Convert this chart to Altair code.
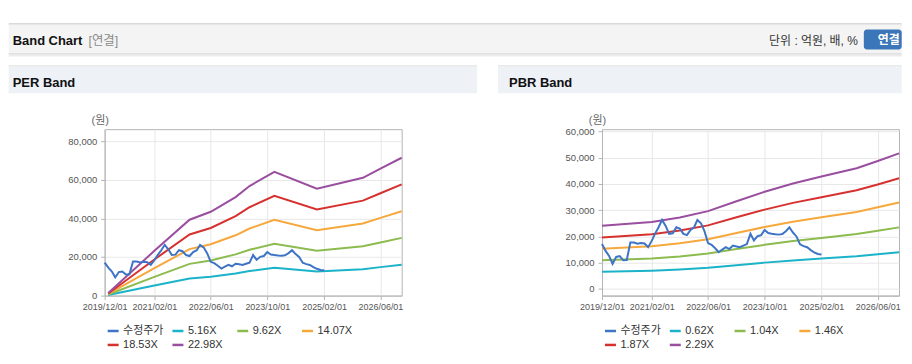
import altair as alt
import pandas as pd

FONT = "Liberation Sans, Noto Sans CJK KR, sans-serif"

PER_SERIES = ["수정주가", "5.16X", "9.62X", "14.07X", "18.53X", "22.98X"]
PBR_SERIES = ["수정주가", "0.62X", "1.04X", "1.46X", "1.87X", "2.29X"]
LINE_COLORS = ["#3e74c6", "#1ab3c9", "#8cbb4f", "#f6a83c", "#d6312f", "#9a4e9f"]

X_TICKS = ["2019-12-01", "2021-02-01", "2022-06-01", "2023-10-01", "2025-02-01", "2026-06-01"]
X_DOMAIN = ["2019-12-01", "2026-12-01"]

PER_Y_TICKS = [0, 20000, 40000, 60000, 80000]
PER_Y_DOMAIN = [0, 86200]
PBR_Y_TICKS = [0, 10000, 20000, 30000, 40000, 50000, 60000]
PBR_Y_DOMAIN = [-2550, 60900]

# 수정주가 (monthly, from 2019-12)
PRICE_START = "2019-12-01"
PRICE = [17100, 14500, 12500, 9500, 12200, 12500, 10900, 11000, 17700, 17700,
         17200, 17500, 17300, 15900, 18300, 21000, 23500, 26300, 24000, 21000,
         21200, 23500, 23000, 21000, 20500, 22500, 23500, 26300, 25000, 22000,
         17500, 16800, 15500, 14000, 15000, 15900, 15200, 16500, 16200, 15900,
         16500, 17100, 21000, 18500, 20100, 20500, 22500, 21300, 21000, 20800,
         20700, 20900, 22000, 23500, 21500, 20000, 17000, 16300, 15900, 14800,
         13900, 13300, 13100]

PER_DATES = ["2020-01-01", "2021-02-01", "2021-12-01", "2022-06-01", "2023-01-01", "2023-05-01",
             "2023-12-01", "2024-12-01", "2026-01-01", "2026-06-01", "2026-12-01"]
PER_5_16 = [315, 5212, 8824, 9752, 11455, 12745, 14396, 12436, 13700, 14758, 16032]
PER_9_62 = [587, 9716, 16450, 18182, 21356, 23761, 26840, 23184, 25541, 27513, 29889]
PER_14_07 = [858, 14211, 24060, 26592, 31235, 34753, 39255, 33909, 37356, 40240, 43715]
PER_18_53 = [1130, 18715, 31686, 35022, 41137, 45769, 51699, 44657, 49197, 52996, 57573]
PER_22_98 = [1402, 23210, 39296, 43432, 51016, 56761, 64114, 55382, 61012, 65723, 71399]

PBR_DATES = ["2019-12-01", "2021-02-01", "2021-10-01", "2022-06-01", "2023-02-01", "2023-10-01",
             "2024-06-01", "2025-02-01", "2025-12-01", "2026-06-01", "2026-12-01"]
PBR_0_62 = [6510, 6913, 7378, 8029, 9052, 10025, 10875, 11594, 12462, 13206, 13987]
PBR_1_04 = [10920, 11596, 12376, 13468, 15184, 16817, 18242, 19448, 20904, 22152, 23462]
PBR_1_46 = [15330, 16279, 17374, 18907, 21316, 23608, 25608, 27302, 29346, 31098, 32938]
PBR_1_87 = [19635, 20851, 22253, 24217, 27302, 30238, 32800, 34969, 37587, 39831, 42187]
PBR_2_29 = [24045, 25534, 27251, 29656, 33434, 37029, 40167, 42823, 46029, 48777, 51662]

W, H = 298, 167
GAP = 201
# page position of the left plot origin (used for header decorations)
OX, OY = 104.3, 128.0


def dt(s):
    y, m, d = (int(p) for p in s.split("-"))
    return alt.DateTime(year=y, month=m, date=d, utc=True)


price_dates = pd.date_range(PRICE_START, periods=len(PRICE), freq="MS").strftime("%Y-%m-%d")
df_price = pd.DataFrame({"date": list(price_dates), "value": PRICE, "series": "수정주가"})


def band_frame(dates, bands):
    rows = []
    for name, vals in bands:
        for d, v in zip(dates, vals):
            rows.append({"date": d, "value": v, "series": name})
    return pd.DataFrame(rows)


df_per = band_frame(PER_DATES, [("5.16X", PER_5_16), ("9.62X", PER_9_62), ("14.07X", PER_14_07),
                                ("18.53X", PER_18_53), ("22.98X", PER_22_98)])
df_pbr = band_frame(PBR_DATES, [("0.62X", PBR_0_62), ("1.04X", PBR_1_04), ("1.46X", PBR_1_46),
                                ("1.87X", PBR_1_87), ("2.29X", PBR_2_29)])

ONE = pd.DataFrame({"k": [0]})


def rect(x1, y1, x2, y2, color, **kw):
    return alt.Chart(ONE).mark_rect(color=color, **kw).encode(
        x=alt.value(x1 - OX), x2=alt.value(x2 - OX),
        y=alt.value(y1 - OY), y2=alt.value(y2 - OY))


def label(txt, x, y, size, color, weight="normal", align="left"):
    return alt.Chart(ONE).mark_text(
        text=txt, align=align, baseline="alphabetic", font=FONT,
        fontSize=size, fontWeight=weight, color=color).encode(
        x=alt.value(x - OX), y=alt.value(y - OY))


deco = [
    rect(8, 8, 904, 22, "#ffffff"),
    rect(8, 22, 904, 23, "#b4b4b4"),
    rect(8, 23, 904, 52, "#f4f4f4"),
    rect(8, 52, 904, 53, "#c9c9c9"),
    rect(8, 53, 904, 55, "#ececec"),
    rect(8, 64, 478, 65, "#d6d6d6"),
    rect(499, 64, 904, 65, "#d6d6d6"),
    rect(8, 65, 478, 92, "#eef1f6"),
    rect(499, 65, 904, 92, "#eef1f6"),
    rect(480, 340, 497, 348, "#ffffff"),
    rect(866, 28, 904, 48, "#3a76b8", cornerRadius=3),
    label("Band Chart", 12, 43.5, 13, "#111111", "bold"),
    label("[연결]", 88, 43.5, 12.5, "#8a8a8a"),
    label("단위 : 억원, 배, %", 860, 44, 12, "#333333", align="right"),
    label("연결", 891, 42.5, 12, "#ffffff", "bold", align="center"),
    label("PER Band", 12, 85.5, 13, "#111111", "bold"),
    label("PBR Band", 510, 85.5, 13, "#111111", "bold"),
]


def panel(df_bands, series, y_domain, y_ticks, extra_layers):
    x_axis = alt.Axis(values=[dt(s) for s in X_TICKS],
                      labelExpr="utcFormat(datum.value, '%Y/%m/%d')",
                      title=None, labelFontSize=9, labelColor="#555555", labelFont=FONT,
                      tickSize=4, labelPadding=3, labelOverlap=False, labelFlush=False,
                      grid=True)
    y_axis = alt.Axis(values=y_ticks, labelExpr="format(datum.value, ',')",
                      title="(원)", titleAngle=0, titleX=-5, titleY=-6,
                      titleAlign="center", titleBaseline="alphabetic", titleFontSize=11,
                      titleFontWeight="normal", titleColor="#666666", titleFont=FONT,
                      labelFontSize=9.5, labelColor="#555555", labelFont=FONT,
                      tickSize=4, labelPadding=4, grid=True)
    x = alt.X("date:T", scale=alt.Scale(type="utc", domain=[dt(s) for s in X_DOMAIN], nice=False),
              axis=x_axis)
    y = alt.Y("value:Q", scale=alt.Scale(domain=y_domain, nice=False, zero=False), axis=y_axis)
    legend = alt.Legend(title=None, orient="none", legendX=1.5, legendY=195.5, direction="horizontal",
                        columns=4, symbolType="stroke", symbolSize=121, symbolStrokeWidth=2.5,
                        labelFontSize=11, labelFont=FONT, labelColor="#333333", labelOffset=3,
                        columnPadding=3, rowPadding=2, gridAlign="all", labelLimit=200, padding=0)
    color = alt.Color("series:N", scale=alt.Scale(domain=series, range=LINE_COLORS), legend=legend)
    bands = alt.Chart(df_bands).mark_line(strokeWidth=2).encode(x=x, y=y, color=color)
    price = alt.Chart(df_price).mark_line(strokeWidth=2).encode(x=x, y=y, color=color)
    return alt.layer(*extra_layers, bands, price).properties(width=W, height=H)


left = panel(df_per, PER_SERIES, PER_Y_DOMAIN, PER_Y_TICKS, deco)
right = panel(df_pbr, PBR_SERIES, PBR_Y_DOMAIN, PBR_Y_TICKS, [])

chart = alt.hconcat(left, right, spacing=GAP, bounds="flush").resolve_scale(
    color="independent", x="independent", y="independent"
).properties(padding=0, background="#ffffff").configure_view(
    stroke="#b4b4b4", strokeWidth=1, fill="#ffffff"
).configure_axis(
    domainColor="#b4b4b4", tickColor="#b4b4b4", gridColor="#e8e8e8"
)

chart.save("out.html", embed_options={"renderer": "svg", "actions": False})
